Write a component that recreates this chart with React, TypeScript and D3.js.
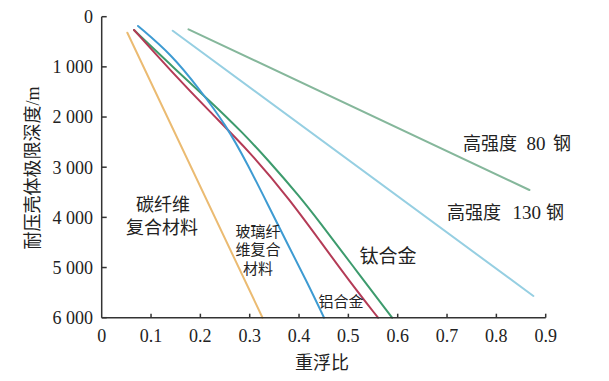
import React from "react";
import * as d3 from "d3";

const W = 609;
const H = 381;

const xTicks = [0, 0.1, 0.2, 0.3, 0.4, 0.5, 0.6, 0.7, 0.8, 0.9];
const yTicks = [0, 1000, 2000, 3000, 4000, 5000, 6000];
const yTickLabels = ["0", "1 000", "2 000", "3 000", "4 000", "5 000", "6 000"];
const xTickLabels = ["0", "0.1", "0.2", "0.3", "0.4", "0.5", "0.6", "0.7", "0.8", "0.9"];

// [重浮比, 深度/m]
const carbonFiber: [number, number][] = [[0.052, 320], [0.326, 6000]];
const glassFiber: [number, number][] = [
  [0.0736, 185], [0.1425, 763], [0.1993, 1461], [0.252, 2159], [0.2966, 2956],
  [0.3372, 3753], [0.3777, 4551], [0.4162, 5288], [0.4507, 6000],
];
const aluminum: [number, number][] = [
  [0.0655, 265], [0.1385, 1062], [0.2196, 1900], [0.3007, 2697], [0.3818, 3654],
  [0.4426, 4471], [0.5034, 5288], [0.5601, 6000],
];
const titanium: [number, number][] = [
  [0.0655, 265], [0.1506, 1062], [0.2216, 1700], [0.2844, 2298], [0.3372, 2856],
  [0.402, 3594], [0.4385, 4052], [0.5075, 4949], [0.5886, 6000],
];
const steel130: [number, number][] = [[0.144, 279], [0.875, 5567]];
const steel80: [number, number][] = [[0.176, 251], [0.867, 3454]];

const seriesList = [
  { name: "carbon", data: carbonFiber, color: "#ebbb72", curve: false },
  { name: "steel80", data: steel80, color: "#85b79b", curve: false },
  { name: "steel130", data: steel130, color: "#96cfe2", curve: false },
  { name: "titanium", data: titanium, color: "#3d9b6d", curve: true },
  { name: "aluminum", data: aluminum, color: "#b43b56", curve: true },
  { name: "glass", data: glassFiber, color: "#3e9bd2", curve: true },
];

const FONT = "'Liberation Serif', 'Times New Roman', 'Noto Sans CJK SC', serif";

export default function App() {
  const x = d3.scaleLinear().domain([0, 0.9]).range([101.7, 545.7]);
  const y = d3.scaleLinear().domain([0, 6000]).range([16.7, 317.7]);

  const lineStraight = d3
    .line<[number, number]>()
    .x((d) => x(d[0]))
    .y((d) => y(d[1]));
  const lineCurve = d3
    .line<[number, number]>()
    .x((d) => x(d[0]))
    .y((d) => y(d[1]))
    .curve(d3.curveBasis);

  const axisColor = "#333";

  return (
    <svg
      width={W}
      height={H}
      style={{ position: "absolute", left: 0, top: 0, background: "#fff" }}
      fontFamily={FONT}
    >
      {/* series */}
      {seriesList.map((s) => (
        <path
          key={s.name}
          d={(s.curve ? lineCurve : lineStraight)(s.data) || ""}
          fill="none"
          stroke={s.color}
          strokeWidth={2}
          strokeLinecap="round"
        />
      ))}

      {/* axes */}
      <line x1={x(0)} x2={x(0)} y1={y(0)} y2={y(6000)} stroke={axisColor} strokeWidth={1.5} />
      <line x1={x(0)} x2={x(0.9)} y1={y(6000)} y2={y(6000)} stroke={axisColor} strokeWidth={1.5} />
      {yTicks.map((t, i) => (
        <g key={"y" + t}>
          <line x1={x(0)} x2={x(0) + 5} y1={y(t)} y2={y(t)} stroke={axisColor} strokeWidth={1.5} />
          <text x={93} y={y(t)} dy="0.35em" textAnchor="end" fontSize={18} fill="#222">
            {yTickLabels[i]}
          </text>
        </g>
      ))}
      {xTicks.map((t, i) => (
        <g key={"x" + t}>
          {t > 0 && (
            <line x1={x(t)} x2={x(t)} y1={y(6000)} y2={y(6000) - 4} stroke={axisColor} strokeWidth={1.5} />
          )}
          <text x={x(t)} y={336} dy="0.35em" textAnchor="middle" fontSize={18} fill="#222">
            {xTickLabels[i]}
          </text>
        </g>
      ))}

      {/* axis titles */}
      <text
        transform={`translate(33,168) rotate(-90)`}
        textAnchor="middle"
        dy="0.35em"
        fontSize={18}
        fill="#222"
      >
        耐压壳体极限深度/m
      </text>
      <text x={322} y={363} dy="0.35em" textAnchor="middle" fontSize={18} fill="#222">
        重浮比
      </text>

      {/* labels */}
      <g fill="#222">
        <text x={163} y={205} dy="0.35em" textAnchor="middle" fontSize={18}>碳纤维</text>
        <text x={162} y={228} dy="0.35em" textAnchor="middle" fontSize={18}>复合材料</text>
        <text x={258} y={232} dy="0.35em" textAnchor="middle" fontSize={15}>玻璃纤</text>
        <text x={258} y={250} dy="0.35em" textAnchor="middle" fontSize={15}>维复合</text>
        <text x={258} y={269} dy="0.35em" textAnchor="middle" fontSize={15}>材料</text>
        <text x={341} y={302} dy="0.35em" textAnchor="middle" fontSize={15}>铝合金</text>
        <text x={388} y={256} dy="0.35em" textAnchor="middle" fontSize={19}>钛合金</text>
        <text y={144} dy="0.35em" fontSize={18}>
          <tspan x={463}>高强度</tspan>
          <tspan x={526.5} fontSize={19}>80</tspan>
          <tspan x={553}>钢</tspan>
        </text>
        <text y={213} dy="0.35em" fontSize={18}>
          <tspan x={447}>高强度</tspan>
          <tspan x={512.5} fontSize={19}>130</tspan>
          <tspan x={546}>钢</tspan>
        </text>
      </g>
    </svg>
  );
}
